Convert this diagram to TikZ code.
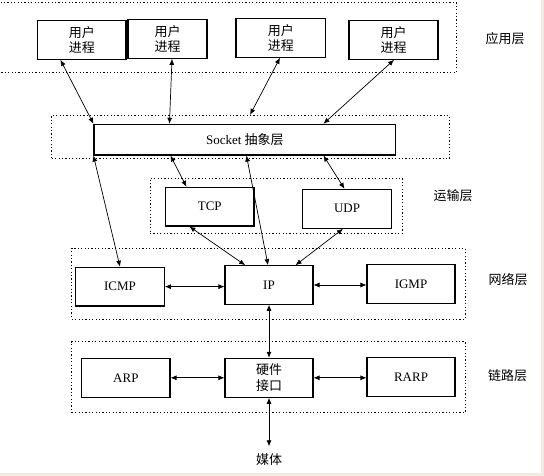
\documentclass[tikz,border=0pt]{standalone}
\usepackage{fontspec}
\setmainfont{Liberation Serif}
\newfontfamily\cjk{Noto Sans CJK SC}
\usetikzlibrary{arrows.meta,calc}
\definecolor{bgbeige}{RGB}{240,234,226}
\begin{document}
\begin{tikzpicture}[x=1pt,y=-1pt,
  box/.style={draw,line width=1.1pt,inner sep=0pt,align=center,font=\fontsize{13}{15.5}\selectfont},
  cjkbox/.style={box,font=\cjk\fontsize{13}{15.5}\selectfont},
  frame/.style={draw,line width=0.9pt,dash pattern=on 1.2pt off 2.2pt,inner sep=0pt},
  lbl/.style={font=\cjk\fontsize{13}{15.5}\selectfont,inner sep=0pt},
  link/.style={line width=0.7pt,{Latex[length=6pt,width=5pt]}-{Latex[length=6pt,width=5pt]}}]
\fill[bgbeige] (0,0) rectangle (544,476);
\fill[white] (0,0) rectangle (541,473);
\useasboundingbox (0,0) rectangle (544,476);

% layer frames
\node[frame,minimum width=458pt,minimum height=70.4pt] (app) at (227,37.5) {};
\node[frame,minimum width=397.6pt,minimum height=43.4pt] (sl) at (250.5,137) {};
\node[frame,minimum width=252.3pt,minimum height=55pt] (tr) at (276.15,205.8) {};
\node[frame,minimum width=393.3pt,minimum height=70.7pt] (nw) at (268.35,283.65) {};
\node[frame,minimum width=393.3pt,minimum height=71pt] (lk) at (268.35,377.2) {};

% layer labels
\node[lbl] (lapp) at (505,39) {应用层};
\node[lbl] (ltr) at (453,196) {运输层};
\node[lbl] (lnw) at (508,280) {网络层};
\node[lbl] (llk) at (507.5,376) {链路层};

% boxes
\node[cjkbox,minimum width=88.5pt,minimum height=38.6pt] (u1) at (81.75,40) {用户\\进程};
\node[cjkbox,minimum width=79pt,minimum height=39pt] (u2) at (167.5,38.8) {用户\\进程};
\node[cjkbox,minimum width=89.5pt,minimum height=39pt] (u3) at (280.75,37.8) {用户\\进程};
\node[cjkbox,minimum width=89pt,minimum height=38.6pt] (u4) at (393.5,40) {用户\\进程};
\node[box,minimum width=301.7pt,minimum height=30.7pt] (sock) at (244.85,139.65) {Socket {\cjk 抽象层}};
\node[box,minimum width=88.5pt,minimum height=38.7pt] (tcp) at (209.75,206.65) {TCP};
\node[box,minimum width=89.2pt,minimum height=39pt] (udp) at (347.1,208.8) {UDP};
\node[box,minimum width=88.6pt,minimum height=38.7pt] (icmp) at (120,286.65) {ICMP};
\node[box,minimum width=88pt,minimum height=38.6pt] (ip) at (269,285) {IP};
\node[box,minimum width=88pt,minimum height=39pt] (igmp) at (411,283.8) {IGMP};
\node[box,minimum width=88.3pt,minimum height=39pt] (arp) at (125.85,377.8) {ARP};
\node[cjkbox,minimum width=88pt,minimum height=39pt] (hw) at (269,377.8) {硬件\\接口};
\node[box,minimum width=88pt,minimum height=39pt] (rarp) at (411,376.8) {RARP};
\node[lbl,inner ysep=7.5pt] (media) at (269,460) {媒体};

% connectors
\draw[link] ([xshift=23.5pt]u1.south west) -- (sock.north west);
\draw[link] ([xshift=4.5pt]u2.south) -- ([xshift=76pt]sock.north west);
\draw[link] ([xshift=-0.75pt]u3.south) -- ([xshift=198.8pt]sl.north west);
\draw[link] ([xshift=0.5pt]u4.south) -- ([xshift=230pt]sock.north west);
\draw[link] (sock.south west) -- (icmp.north);
\draw[link] ([xshift=77pt]sock.south west) -- ([xshift=21.5pt]tcp.north west);
\draw[link] ([xshift=153pt]sock.south west) -- ([xshift=-1pt]ip.north);
\draw[link] ([xshift=230pt]sock.south west) -- ([xshift=42.5pt]udp.north west);
\draw[link] ([xshift=24.5pt]tcp.south west) -- ([xshift=20.7pt]ip.north west);
\draw[link] ([xshift=41pt]udp.south west) -- ([xshift=-18pt]ip.north east);
\draw[link] (icmp.east) -- (icmp.east -| ip.west);
\draw[link] (ip.east) -- (ip.east -| igmp.west);
\draw[link] (ip.south) -- (hw.north);
\draw[link] (arp.east) -- (hw.west);
\draw[link] (hw.east) -- (hw.east -| rarp.west);
\draw[link] (hw.south) -- (media.north);
\end{tikzpicture}
\end{document}
